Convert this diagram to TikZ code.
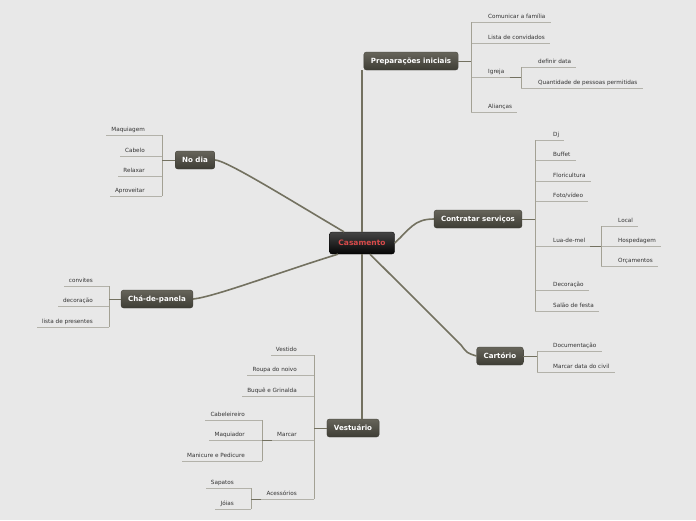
\documentclass[tikz,border=0pt]{standalone}
\usepackage{fontspec}
\setmainfont{DejaVu Sans}
\usetikzlibrary{positioning}
\definecolor{fundo}{HTML}{E8E8E8}
\definecolor{topoA}{HTML}{66645A}
\definecolor{topoB}{HTML}{3E3D35}
\definecolor{centroA}{HTML}{444444}
\definecolor{centroB}{HTML}{050505}
\definecolor{vermelho}{HTML}{D84A4A}
\definecolor{linha}{HTML}{737160}
\definecolor{chavecor}{HTML}{A3A194}
\definecolor{subcor}{HTML}{B3B2AA}
\definecolor{texto}{HTML}{333333}

\begin{document}
\begin{tikzpicture}[
  x=1pt, y=-1pt,
  font=\fontsize{5.7}{6.5}\selectfont,
  topico/.style={rounded corners=2.5pt, top color=topoA, bottom color=topoB,
                 draw=topoB, line width=0.3pt, text=white, inner xsep=7pt,
                 font=\bfseries\fontsize{7.1}{8}\selectfont, minimum height=18pt},
  central/.style={topico, top color=centroA, bottom color=centroB, draw=black,
                  text=vermelho, font=\bfseries\fontsize{7.5}{8}\selectfont,
                  minimum width=65pt, minimum height=22pt},
  folhad/.style={anchor=south west, inner xsep=0pt, inner ysep=1.8pt,
                 text height=4.2pt, text depth=1.2pt, text=texto},
  folhae/.style={folhad, anchor=south east},
  ramo/.style={draw=linha, line width=1.6pt},
  haste/.style={draw=linha, line width=0.9pt},
  chave/.style={draw=chavecor, line width=0.8pt},
  sublinha/.style={draw=subcor, line width=0.7pt}
]

% fundo
\fill[fundo] (0,0) rectangle (696,520);
\useasboundingbox (0,0) rectangle (696,520);

% topicos principais
\node[central] (casamento) at (362,243) {Casamento};
\node[topico] (prep) at (411,61)  {Preparações iniciais};
\node[topico] (nodia) at (195,160) {No dia};
\node[topico] (contr) at (478,219) {Contratar serviços};
\node[topico] (cha) at (157,299) {Chá-de-panela};
\node[topico] (cart) at (500,356) {Cartório};
\node[topico] (vest) at (353,428) {Vestuário};

% ligacoes ao centro
\draw[ramo] (casamento.north) -- (casamento.north |- prep.south);
\draw[ramo] (nodia.east) .. controls (226,160) and (290,200) .. ([xshift=-18pt]casamento.north);
\draw[ramo] (casamento.east) .. controls (410,229) and (414,219) .. (contr.west);
\draw[ramo] (cha.east) .. controls (214,297) and (280,272) .. ([xshift=-24pt]casamento.south);
\draw[ramo] ([xshift=8pt]casamento.south) -- (461,345) .. controls (467,353) .. (cart.west);
\draw[ramo] (casamento.south) -- (casamento.south |- vest.north);

% Preparações iniciais
\coordinate (pr) at (471,61);
\foreach \nome/\y/\txt in {pa/22/Comunicar a família, pb/43/Lista de convidados,
                           pc/77/Igreja, pd/112/Alianças} {
  \node[folhad] (\nome) at (488,\y) {\txt};
  \draw[sublinha] (pr |- \nome.south) -- ([xshift=5pt]\nome.south east);
}
\draw[chave] (pr |- pa.south) -- (pr |- pd.south);
\draw[haste] (prep.east) -- (pr);
\coordinate (ig) at (521,77);
\foreach \nome/\y/\txt in {ia/67/definir data, ib/88/Quantidade de pessoas permitidas} {
  \node[folhad] (\nome) at (538,\y) {\txt};
  \draw[sublinha] (ig |- \nome.south) -- ([xshift=5pt]\nome.south east);
}
\draw[chave] (ig |- ia.south) -- (ig |- ib.south);
\draw[haste] ([xshift=5pt]pc.south east) -- (ig);

% No dia
\coordinate (nd) at (162,160);
\foreach \nome/\y/\txt in {na/135/Maquiagem, nb/156/Cabelo, nc/176/Relaxar, ne/196/Aproveitar} {
  \node[folhae] (\nome) at (145,\y) {\txt};
  \draw[sublinha] (nd |- \nome.south) -- ([xshift=-5pt]\nome.south west);
}
\draw[chave] (nd |- na.south) -- (nd |- ne.south);
\draw[haste] (nodia.west) -- (nd);

% Contratar serviços
\coordinate (cs) at (535,219);
\foreach \nome/\y/\txt in {ca/140/Dj, cb/160/Buffet, cc/181/Floricultura, cd/201/{Foto/vídeo},
                           ce/246/Lua-de-mel, cf/290/Decoração, cg/311/Salão de festa} {
  \node[folhad] (\nome) at (553,\y) {\txt};
  \draw[sublinha] (cs |- \nome.south) -- ([xshift=5pt]\nome.south east);
}
\draw[chave] (cs |- ca.south) -- (cs |- cg.south);
\draw[haste] (contr.east) -- (cs);
\coordinate (lm) at (601,246);
\foreach \nome/\y/\txt in {la/226/Local, lb/246/Hospedagem, lc/266/Orçamentos} {
  \node[folhad] (\nome) at (618,\y) {\txt};
  \draw[sublinha] (lm |- \nome.south) -- ([xshift=5pt]\nome.south east);
}
\draw[chave] (lm |- la.south) -- (lm |- lc.south);
\draw[haste] ([xshift=5pt]ce.south east) -- (lm);

% Chá-de-panela
\coordinate (ch) at (109,299);
\foreach \nome/\y/\txt in {ha/286/convites, hb/306/decoração, hc/327/lista de presentes} {
  \node[folhae] (\nome) at (93,\y) {\txt};
  \draw[sublinha] (ch |- \nome.south) -- ([xshift=-5pt]\nome.south west);
}
\draw[chave] (ch |- ha.south) -- (ch |- hc.south);
\draw[haste] (cha.west) -- (ch);

% Cartório
\coordinate (ct) at (537,356);
\foreach \nome/\y/\txt in {ta/351/Documentação, tb/372/Marcar data do civil} {
  \node[folhad] (\nome) at (553,\y) {\txt};
  \draw[sublinha] (ct |- \nome.south) -- ([xshift=5pt]\nome.south east);
}
\draw[chave] (ct |- ta.south) -- (ct |- tb.south);
\draw[haste] (cart.east) -- (ct);

% Vestuário
\coordinate (vt) at (314,428);
\foreach \nome/\y/\txt in {va/355/Vestido, vb/375/Roupa do noivo, vc/396/Buquê e Grinalda,
                           vd/440/Marcar, ve/499/Acessórios} {
  \node[folhae] (\nome) at (297,\y) {\txt};
  \draw[sublinha] (vt |- \nome.south) -- ([xshift=-5pt]\nome.south west);
}
\draw[chave] (vt |- va.south) -- (vt |- ve.south);
\draw[haste] (vest.west) -- (vt);
\coordinate (mc) at (262,440);
\foreach \nome/\y/\txt in {ma/420/Cabeleireiro, mb/440/Maquiador, md/461/Manicure e Pedicure} {
  \node[folhae] (\nome) at (245,\y) {\txt};
  \draw[sublinha] (mc |- \nome.south) -- ([xshift=-5pt]\nome.south west);
}
\draw[chave] (mc |- ma.south) -- (mc |- md.south);
\draw[haste] ([xshift=-5pt]vd.south west) -- (mc);
\coordinate (ac) at (251,499);
\foreach \nome/\y/\txt in {sa/488/Sapatos, sb/509/Jóias} {
  \node[folhae] (\nome) at (234,\y) {\txt};
  \draw[sublinha] (ac |- \nome.south) -- ([xshift=-5pt]\nome.south west);
}
\draw[chave] (ac |- sa.south) -- (ac |- sb.south);
\draw[haste] ([xshift=-5pt]ve.south west) -- (ac);

\end{tikzpicture}
\end{document}
